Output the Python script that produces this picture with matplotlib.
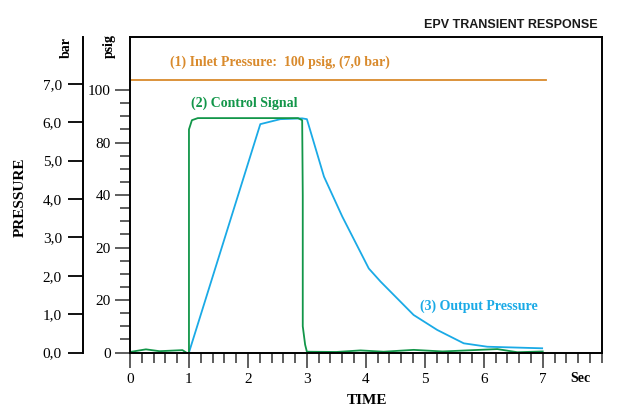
import numpy as np
import matplotlib
matplotlib.use("Agg")
import matplotlib.pyplot as plt
from matplotlib.ticker import MultipleLocator

# --- data (time in s, pressure in psig) ---
inlet_t = [0.0, 7.05]
inlet_p = [103.8, 103.8]

control_t = [0.0, 0.27, 0.5, 0.89, 0.98, 1.0, 1.0, 1.05, 1.15, 2.85, 2.92, 2.93,
             2.93, 2.97, 3.0, 3.5, 3.91, 4.3, 4.81, 5.3, 6.23, 6.57, 7.0]
control_p = [0.2, 1.2, 0.5, 0.9, -0.4, 0.0, 85.0, 88.5, 89.3, 89.3, 88.5, 60.0,
             10.0, 3.0, 0.3, 0.2, 0.8, 0.3, 1.0, 0.4, 1.3, 0.1, 0.4]

output_t = [1.0, 2.21, 2.55, 2.92, 3.0, 3.29, 3.6, 4.05, 4.25, 4.81, 5.21, 5.66, 6.06, 6.99]
output_p = [0.0, 87.0, 88.9, 89.2, 88.9, 67.0, 51.8, 32.0, 27.0, 14.3, 8.6, 3.5, 2.2, 1.6]

time_ticks = [0, 1, 2, 3, 4, 5, 6, 7]
psig_ticks = [0, 20, 40, 60, 80, 100]
psig_labels = ["0", "20", "20", "40", "80", "100"]
bar_ticks = [0, 1, 2, 3, 4, 5, 6, 7]
bar_labels = ["0,0", "1,0", "2,0", "3,0", "4,0", "5,0", "6,0", "7,0"]

ORANGE = "#D98A2C"
GREEN = "#129649"
BLUE = "#1AAAE6"
SERIF = "Liberation Serif"

W, H = 617, 408
fig = plt.figure(figsize=(W / 100, H / 100), dpi=100)

def fx(px):
    return px / W

def fy(py):
    return 1 - py / H

left, right, top, bottom = 130.0, 601.7, 37.0, 352.5
ax = fig.add_axes([fx(left), fy(bottom), fx(right - left), (bottom - top) / H])

ax.plot(inlet_t, inlet_p, color=ORANGE, lw=1.3)
ax.plot(output_t, output_p, color=BLUE, lw=1.3)
ax.plot(control_t, control_p, color=GREEN, lw=1.3)

ax.set_xlim(0, 8)
ax.set_ylim(0, 120.2)

for s in ax.spines.values():
    s.set_linewidth(1.4)

ax.set_xticks(time_ticks)
ax.set_xticklabels([str(t) for t in time_ticks], fontfamily=SERIF, fontsize=11)
ax.xaxis.set_minor_locator(MultipleLocator(0.2))
ax.set_yticks(psig_ticks)
ax.set_yticklabels(psig_labels, fontfamily=SERIF, fontsize=11)
ax.set_yticks(np.arange(0, 101, 5), minor=True)
ax.tick_params(which="major", direction="out", length=11, width=1.1, pad=3, color="#333333")
ax.tick_params(which="minor", direction="out", length=7, width=1.1, color="#333333")
ax.tick_params(axis="x", which="major", pad=4)

ax.text(2.55, 110.4, "(1) Inlet Pressure:  100 psig, (7,0 bar)", color=ORANGE,
        fontfamily=SERIF, fontweight="bold", fontsize=10, ha="center", va="center")
ax.text(1.93, 95.1, "(2) Control Signal", color=GREEN,
        fontfamily=SERIF, fontweight="bold", fontsize=10, ha="center", va="center")
ax.text(5.91, 17.5, "(3) Output Pressure", color=BLUE,
        fontfamily=SERIF, fontweight="bold", fontsize=10, ha="center", va="center")

# bar scale on a separate spine
bx = fig.add_axes([fx(82.7), fy(bottom), 0.001, (bottom - top) / H])
bx.patch.set_visible(False)
for k in ["top", "right", "bottom"]:
    bx.spines[k].set_visible(False)
bx.spines["left"].set_linewidth(1.4)
bx.set_xticks([])
bx.set_ylim(0, 8.22)
bx.set_yticks(bar_ticks)
bx.set_yticklabels(bar_labels, fontfamily=SERIF, fontsize=11)
bx.tick_params(axis="y", direction="out", length=11, width=1.3, pad=4)

fig.text(fx(66), fy(48), "bar", rotation=90, fontfamily=SERIF, fontweight="bold",
         fontsize=10, ha="center", va="center")
fig.text(fx(109), fy(46), "psig", rotation=90, fontfamily=SERIF, fontweight="bold",
         fontsize=10, ha="center", va="center")
fig.text(fx(20), fy(197), "PRESSURE", rotation=90, fontfamily=SERIF, fontweight="bold",
         fontsize=11, ha="center", va="center")
fig.text(fx(366.7), fy(400), "TIME", fontfamily=SERIF, fontweight="bold",
         fontsize=11, ha="center", va="center")
fig.text(fx(580), fy(378), "Sec", fontfamily=SERIF, fontweight="bold",
         fontsize=10, ha="center", va="center")
fig.text(fx(598), fy(25.5), "EPV TRANSIENT RESPONSE", fontfamily="Liberation Sans",
         fontweight="bold", fontsize=9, ha="right", va="center", color="#1a1a1a")

fig.savefig("out.png", dpi=100)
